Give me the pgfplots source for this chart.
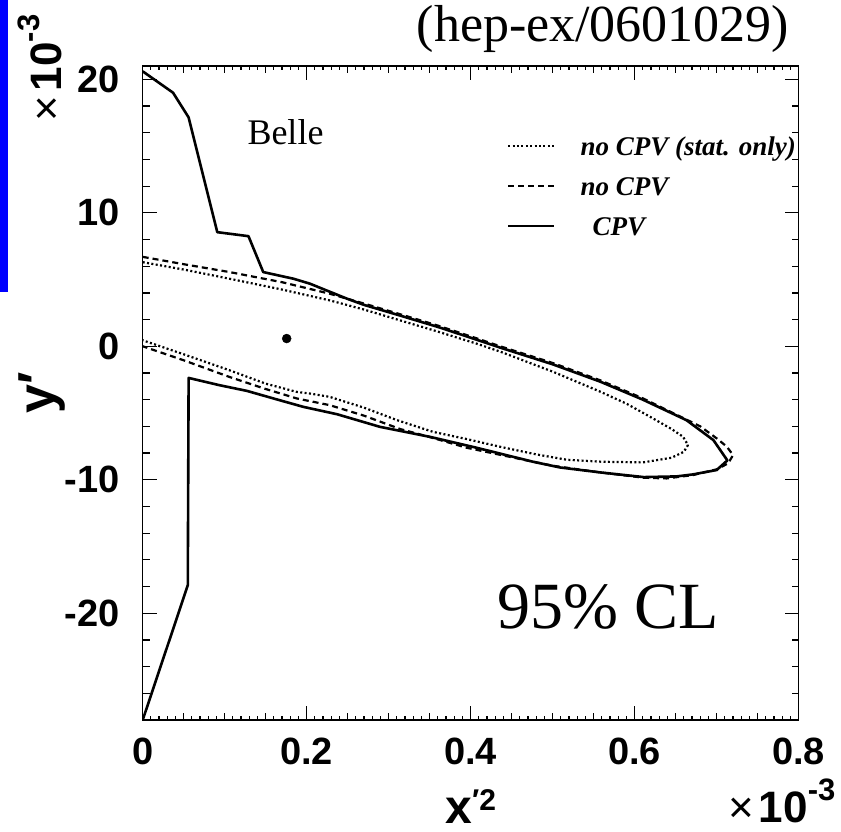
\documentclass[border=0pt]{standalone}
\usepackage{fontspec}
\setmainfont{Liberation Serif}
\setsansfont{Liberation Sans}
\usepackage{pgfplots}
\pgfplotsset{compat=1.18}

\begin{document}
\begin{tikzpicture}[x=1pt,y=1pt]
\useasboundingbox (-142.7,-111) rectangle (698.3,720);
\clip (-142.7,-111) rectangle (698.3,720);
\fill[blue] (-142.7,428) rectangle (-134.7,720);
\begin{axis}[
  at={(0,0)}, anchor=south west,
  scale only axis, width=656pt, height=654pt,
  xmin=0, xmax=0.8, ymin=-28, ymax=21,
  axis line style={line width=1.6pt},
  every tick/.style={black, line width=1.2pt},
  xtick={0,0.2,0.4,0.6,0.8}, xticklabels={0,0.2,0.4,0.6,0.8},
  ytick={-20,-10,0,10,20}, yticklabels={-20,-10,0,10,20},
  minor x tick num=19,
  major tick length=14pt, minor tick length=4pt,
  extra x ticks={0.05,0.1,0.15,0.25,0.3,0.35,0.45,0.5,0.55,0.65,0.7,0.75},
  extra x tick labels={},
  extra x tick style={major tick length=7pt},
  extra y ticks={-26,-24,-22,-18,-16,-14,-12,-8,-6,-4,-2,2,4,6,8,12,14,16,18},
  extra y tick labels={},
  extra y tick style={major tick length=7pt},
  tick align=inside,
  ticklabel style={font=\sffamily\bfseries\fontsize{38}{40}\selectfont, inner sep=0pt},
  xticklabel style={yshift=-18pt},
  yticklabel style={xshift=-22.7pt},
  xlabel={x\raisebox{13pt}{\fontsize{30}{32}\selectfont ′2}},
  xlabel style={at={(axis description cs:0.5,-0.1590)}, anchor=base, inner sep=0pt,
    font=\sffamily\bfseries\fontsize{48}{50}\selectfont},
  ylabel={y′},
  ylabel style={at={(axis description cs:-0.1337,0.5)}, anchor=base, rotate=0, inner sep=0pt,
    font=\sffamily\bfseries\fontsize{52}{54}\selectfont},
  legend cell align=left,
  legend image code/.code={\draw[#1] (0pt,0pt) -- (46pt,0pt);},
  legend style={draw=none, fill=none, at={(0.5549,0.8976)}, anchor=north west,
    inner sep=0pt, column sep=25pt, row sep=14pt,
    nodes={inner sep=0pt, text height=22pt, text depth=4pt},
    font=\rmfamily\bfseries\itshape\fontsize{27}{29}\selectfont},
]
\addplot[black, line width=2.2pt, dash pattern=on 2pt off 2.4pt, line join=round] coordinates {
(0,6.3) (0.05,5.75) (0.106,5.06) (0.17,4.25) (0.228,3.44) (0.27,2.75) (0.314,1.94)
(0.36,1.1) (0.407,0.2) (0.436,-0.4) (0.5,-1.9) (0.558,-3.4) (0.59,-4.3) (0.619,-5.29)
(0.645,-6.2) (0.659,-6.78) (0.665,-7.4) (0.66,-7.9) (0.645,-8.35) (0.61,-8.7)
(0.56,-8.65) (0.517,-8.5) (0.48,-8.1) (0.436,-7.53) (0.395,-6.95) (0.354,-6.41)
(0.31,-5.53) (0.27,-4.6) (0.228,-3.79) (0.205,-3.55) (0.188,-3.42) (0.15,-2.8)
(0.106,-1.8) (0.05,-0.6) (0,0.45)
};
\addlegendentry{no CPV (stat. only)}
\addplot[black, line width=2.2pt, dash pattern=on 6pt off 4pt, line join=round] coordinates {
(0,6.7) (0.05,6.15) (0.106,5.56) (0.17,4.8) (0.228,3.94) (0.27,3.2) (0.314,2.4)
(0.36,1.55) (0.407,0.6) (0.436,0.0) (0.5,-1.25) (0.558,-2.55) (0.61,-3.9) (0.65,-5.1)
(0.68,-6.0) (0.700,-6.9) (0.712,-7.5) (0.720,-8.15) (0.714,-8.77) (0.700,-9.22)
(0.671,-9.65) (0.639,-9.9) (0.611,-9.85) (0.558,-9.45) (0.5,-8.95) (0.476,-8.65)
(0.395,-7.6) (0.35,-6.8) (0.314,-6.2) (0.27,-5.2) (0.228,-4.41) (0.188,-3.91)
(0.15,-3.2) (0.106,-2.3) (0.05,-1.05) (0,0)
};
\addlegendentry{no CPV}
\addplot[black, line width=2.6pt, line join=round] coordinates {
(0,20.6) (0.037,19.0) (0.056,17.15) (0.091,8.55) (0.129,8.25) (0.147,5.56)
(0.184,5.06) (0.204,4.69) (0.224,4.19) (0.249,3.57) (0.27,3.1) (0.314,2.3)
(0.36,1.45) (0.407,0.5) (0.436,-0.1) (0.5,-1.35) (0.558,-2.65) (0.61,-4.0)
(0.663,-5.53) (0.696,-7.03) (0.713,-8.55) (0.700,-9.27) (0.671,-9.6) (0.651,-9.75)
(0.611,-9.8) (0.558,-9.45) (0.509,-9.08) (0.476,-8.65) (0.407,-7.6) (0.35,-6.78)
(0.289,-6.03) (0.237,-5.09) (0.196,-4.54) (0.167,-4.04) (0.127,-3.34) (0.094,-2.92)
(0.056,-2.37) (0.055,-17.9) (0,-28)
};
\addlegendentry{\hspace*{12pt}CPV}
\addplot[black, only marks, mark=*, mark size=4.5pt, forget plot] coordinates {(0.1756,0.58)};
\end{axis}
\node[anchor=base, inner sep=0pt] at (460.3,678) {\fontsize{52}{56}\selectfont (hep-ex/0601029)};
\node[anchor=base west, inner sep=0pt] at (104.6,575) {\fontsize{36}{40}\selectfont Belle};
\node[anchor=base west, inner sep=0pt] at (354.3,92) {\fontsize{66}{70}\selectfont 95\% CL};
\node[rotate=90, anchor=base west, inner sep=0pt] at (-80.7,598)
  {\sffamily\fontsize{44}{46}\selectfont ×\hspace{5pt}\bfseries 10\raisebox{22pt}{\fontsize{31}{33}\selectfont -3}};
\node[anchor=base west, inner sep=0pt] at (585.3,-102)
  {\sffamily\fontsize{44}{46}\selectfont ×\hspace{5pt}\bfseries 10\raisebox{22pt}{\fontsize{31}{33}\selectfont -3}};
\end{tikzpicture}
\end{document}
